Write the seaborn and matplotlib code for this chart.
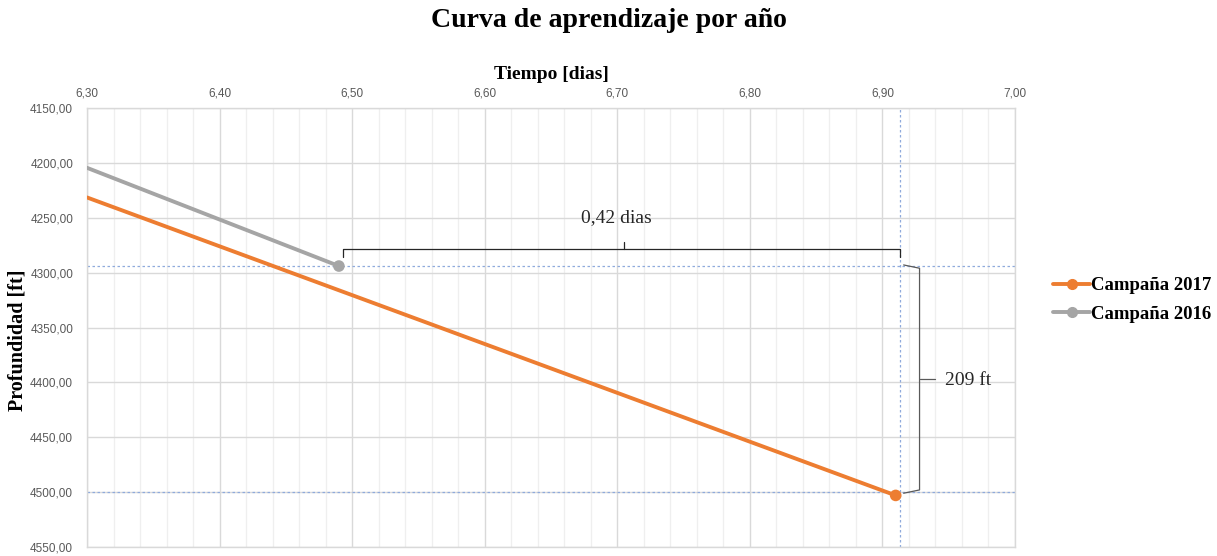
import matplotlib
matplotlib.use("Agg")
import matplotlib.pyplot as plt
from matplotlib.lines import Line2D
from matplotlib.ticker import MultipleLocator, FuncFormatter
import numpy as np
import pandas as pd
import seaborn as sns

# Tiempo [dias] vs profundidad [ft] por campaña
campanas = ["Campaña 2017", "Campaña 2016"]
tiempo_2017 = [6.30, 6.91]
prof_2017 = [4231.5, 4503.0]
tiempo_2016 = [6.30, 6.49]
prof_2016 = [4204.5, 4294.0]
colores = {"Campaña 2017": "#ED7D31", "Campaña 2016": "#A5A5A5"}

# Diferencias anotadas
dif_dias = 0.42
dif_pies = 209
ref_prof = [4294.0, 4500.0]

df = pd.concat([
    pd.DataFrame({"tiempo": tiempo_2017, "prof": prof_2017, "campana": campanas[0]}),
    pd.DataFrame({"tiempo": tiempo_2016, "prof": prof_2016, "campana": campanas[1]}),
])

sns.set_theme(style="white")
plt.rcParams["font.family"] = ["Liberation Sans", "DejaVu Sans"]
plt.rcParams["text.color"] = "black"
plt.rcParams["axes.labelcolor"] = "black"
serif = ["Liberation Serif", "DejaVu Serif"]

fig = plt.figure(figsize=(12.17, 5.56), dpi=100)
ax = fig.add_axes([87 / 1217, 1 - 547 / 556, (1015 - 87) / 1217, (547 - 108) / 556])

# Rejilla
ax.set_xlim(6.30, 7.00)
ax.set_ylim(4550, 4150)
ax.xaxis.set_major_locator(MultipleLocator(0.1))
ax.xaxis.set_minor_locator(MultipleLocator(0.02))
ax.yaxis.set_major_locator(MultipleLocator(50))
ax.grid(which="major", color="#D9D9D9", linewidth=1.0)
ax.grid(which="minor", axis="x", color="#EFEFEF", linewidth=0.9)
ax.set_axisbelow(True)
for s in ax.spines.values():
    s.set_color("#D9D9D9")
    s.set_linewidth(1.0)

# Líneas de referencia punteadas
for yv in ref_prof:
    ax.axhline(yv, color="#8FAADC", linestyle=(0, (2, 2)), linewidth=0.9, zorder=1.5)
ax.axvline(tiempo_2017[-1] + 0.003, color="#8FAADC", linestyle=(0, (2, 2)), linewidth=0.9, zorder=1.5)

# Series
sns.lineplot(data=df, x="tiempo", y="prof", hue="campana", palette=colores,
             linewidth=2.8, legend=False, ax=ax, sort=False, zorder=3)
ends = df.groupby("campana", sort=False).tail(1)
sns.scatterplot(data=ends, x="tiempo", y="prof", hue="campana", palette=colores,
                s=70, edgecolor="none", legend=False, ax=ax, zorder=4)

# Llave horizontal (0,42 dias)
x0, x1 = tiempo_2016[-1] + 0.003, tiempo_2017[-1] + 0.003
yb = 4278.5
xm = (x0 + x1) / 2
ax.plot([x0, x0, x1, x1], [4286, yb, yb, 4286], color="#262626", linewidth=0.9, zorder=5)
ax.plot([xm + 0.002, xm + 0.002], [yb, 4272], color="#262626", linewidth=0.9, zorder=5)
ax.text(xm - 0.004, 4258, f"{dif_dias:.2f} dias".replace(".", ","), ha="center", va="bottom",
        fontsize=14, family=serif, color="#262626")

# Llave vertical (209 ft)
xb = 6.928
ya, yc = ref_prof[0] - 1, prof_2017[-1] - 2
ym = (ya + yc) / 2
ax.plot([6.916, xb, xb, 6.916], [ya, ya + 3, yc - 3, yc], color="#595959", linewidth=0.9,
        zorder=5, clip_on=False)
ax.plot([xb, 6.940], [ym, ym], color="#595959", linewidth=0.9, zorder=5, clip_on=False)
ax.text(6.947, ym + 1, f"{dif_pies} ft", ha="left", va="center", fontsize=14, family=serif,
        color="#262626")

# Ejes
ax.xaxis.tick_top()
ax.xaxis.set_label_position("top")
ax.xaxis.set_major_formatter(FuncFormatter(lambda v, p: f"{v:.2f}".replace(".", ",")))
ax.yaxis.set_major_formatter(FuncFormatter(lambda v, p: f"{v:.2f}".replace(".", ",")))
ax.tick_params(axis="both", which="both", length=0, labelsize=8.5, labelcolor="#595959", pad=6)
ax.tick_params(axis="y", pad=10)
ax.set_xlabel("Tiempo [dias]", fontsize=14, fontweight="bold", family=serif, labelpad=6)
ax.set_ylabel("Profundidad [ft]", fontsize=14.5, fontweight="bold", family=serif, labelpad=2)
ax.yaxis.set_label_coords(-0.064, 0.47)

fig.suptitle("Curva de aprendizaje por año", x=0.5, y=0.985, fontsize=20,
             fontweight="bold", family=serif, color="black")

# Leyenda
handles = [Line2D([0], [0], color=colores[c], linewidth=2.8, marker="o", markersize=7)
           for c in campanas]
leg = fig.legend(handles, campanas, loc="center left", bbox_to_anchor=(1036 / 1217, 1 - 300 / 556),
                 frameon=False, handlelength=2.0, handletextpad=0.05, labelspacing=0.6,
                 prop={"family": serif, "weight": "bold", "size": 13.5})

fig.savefig("out.png", dpi=100)
